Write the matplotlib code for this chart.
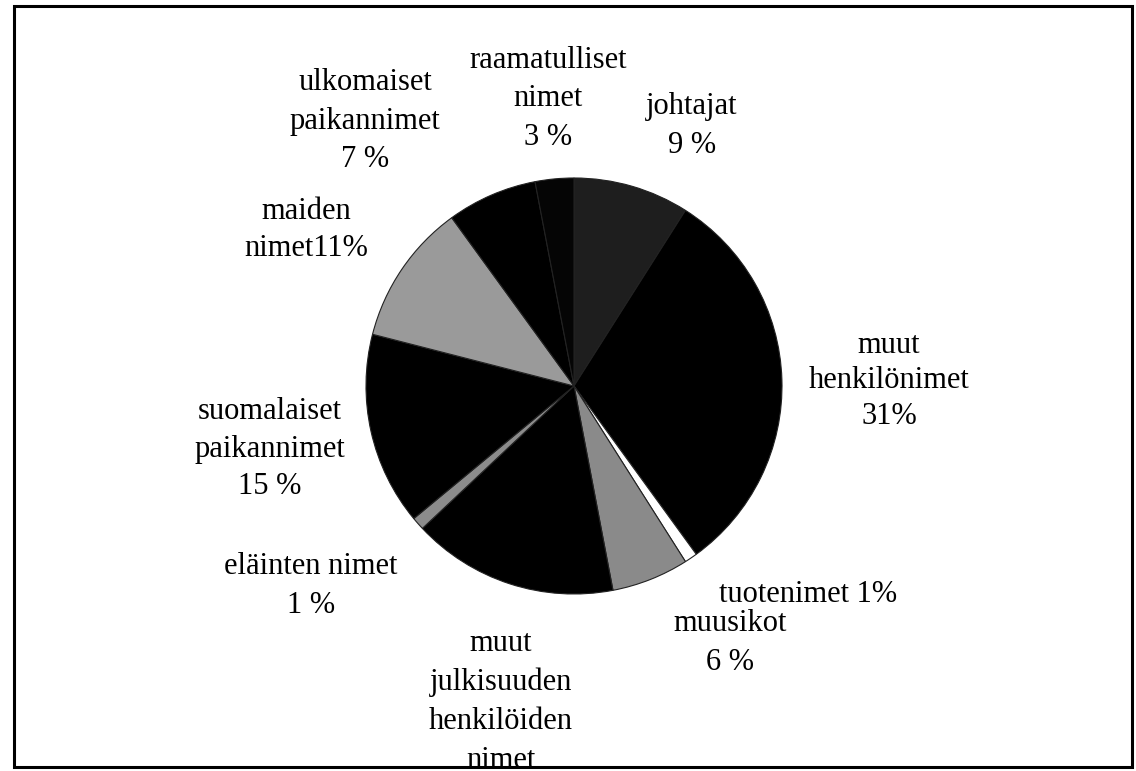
"""Pie chart of name categories (scanned-report style, recreated)."""

import matplotlib.pyplot as plt
from matplotlib.patches import Rectangle

FIG_W, FIG_H = 1136, 771

# Slices clockwise from 12 o'clock
CATEGORIES = [
    "johtajat",
    "muut henkilönimet",
    "tuotenimet",
    "muusikot",
    "muut julkisuuden henkilöiden nimet",
    "eläinten nimet",
    "suomalaiset paikannimet",
    "maiden nimet",
    "ulkomaiset paikannimet",
    "raamatulliset nimet",
]
SHARES = [9, 31, 1, 6, 16, 1, 15, 11, 7, 3]

LABEL_TEXTS = [
    "johtajat\n9 %",
    "muut\nhenkilönimet\n31%",
    "tuotenimet 1%",
    "muusikot\n6 %",
    "muut\njulkisuuden\nhenkilöiden\nnimet",
    "eläinten nimet\n1 %",
    "suomalaiset\npaikannimet\n15 %",
    "maiden\nnimet11%",
    "ulkomaiset\npaikannimet\n7 %",
    "raamatulliset\nnimet\n3 %",
]

# layout (pixel coordinates, y from top) -- not data
SLICE_COLORS = ["#1e1e1e", "#000000", "#ffffff", "#8a8a8a", "#000000",
                "#8c8c8c", "#000000", "#9a9a9a", "#000000", "#050505"]
LABEL_POS = [
    (692, 126), (889, 381), (808, 595), (730, 643), (501, 702),
    (311, 586), (270, 449), (306, 230), (365, 121), (548, 99),
]
LABEL_SPACING = [1.45, 1.3, 1.45, 1.45, 1.45, 1.45, 1.4, 1.35, 1.45, 1.45]
PIE_CENTER = (574, 386)
PIE_RADIUS = 208


def main() -> None:
    plt.rcParams["font.family"] = ["Liberation Serif", "DejaVu Serif"]

    fig = plt.figure(figsize=(FIG_W / 100, FIG_H / 100), dpi=100)
    ax = fig.add_axes([0, 0, 1, 1])

    ax.pie(
        SHARES,
        colors=SLICE_COLORS,
        startangle=90,
        counterclock=False,
        center=(PIE_CENTER[0], FIG_H - PIE_CENTER[1]),
        radius=PIE_RADIUS,
        wedgeprops={"edgecolor": "#222222", "linewidth": 0.8},
    )

    for text, (x, y), spacing in zip(LABEL_TEXTS, LABEL_POS, LABEL_SPACING):
        ax.text(x, FIG_H - y, text, ha="center", va="center",
                fontsize=22, linespacing=spacing, color="black")

    ax.add_patch(Rectangle((14, FIG_H - 767), 1118, 761, fill=False,
                           edgecolor="black", linewidth=2.2, zorder=5))

    ax.set_xlim(0, FIG_W)
    ax.set_ylim(0, FIG_H)
    ax.set_aspect("equal")
    ax.axis("off")

    fig.savefig("out.png", dpi=100, facecolor="white")
    plt.close(fig)


if __name__ == "__main__":
    main()
